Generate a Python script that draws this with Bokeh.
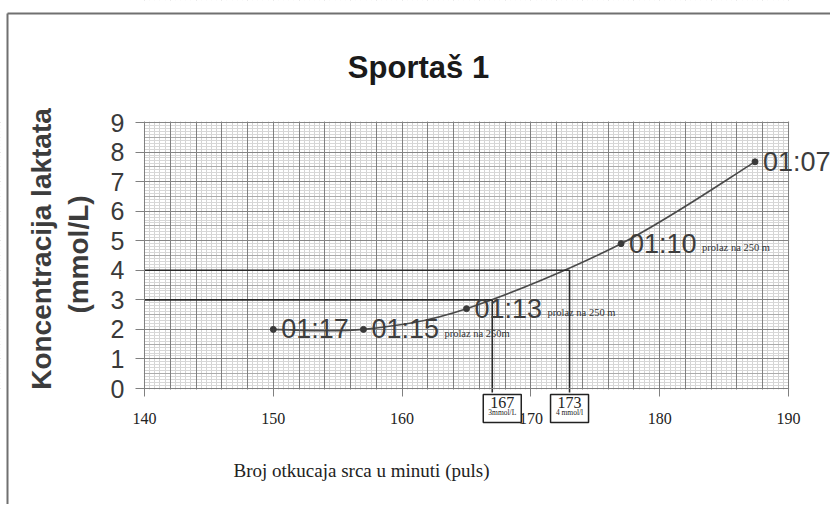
import numpy as np
from bokeh.plotting import figure
from bokeh.models import (ColumnDataSource, Grid, SingleIntervalTicker, Label,
                          LabelSet, FixedTicker, Range1d)
from bokeh.core.properties import value
from bokeh.embed import file_html
from bokeh.resources import INLINE

# ---------------- data ----------------
pulse = [150, 157, 165, 177, 187.4]
lactate = [2.0, 2.0, 2.7, 4.9, 7.67]
times = ["01:17", "01:15", "01:13", "01:10", "01:07"]
split_pulse = [157, 165, 177]
split_lactate = [2.0, 2.7, 4.9]
split_notes = ["prolaz na 250m", "prolaz na 250 m", "prolaz na 250 m"]
threshold_lactate = [3, 4]
threshold_pulse = [167, 173]
threshold_pulse_labels = ["167", "173"]
threshold_unit_labels = ["3mmol/L", "4 mmol/l"]
x_ticks = [140, 150, 160, 170, 180, 190]
y_ticks = [0, 1, 2, 3, 4, 5, 6, 7, 8, 9]
title_text = "Sportaš 1"
x_title = "Broj otkucaja srca u minuti (puls)"
y_title_lines = ["Koncentracija laktata", "(mmol/L)"]

X0, X1 = 140, 190
Y0, Y1 = 0, 9

# ---------------- geometry (page layout) ----------------
W, H = 830, 504
PXX = 12.88            # px per pulse unit
PXY = 266 / 9          # px per mmol/L
XS = X0 - 144 / PXX
XE = XS + W / PXX
YE = Y1 + 122 / PXY
YS = YE - H / PXY


def dx(px):
    return XS + px / PXX


def dy(py):
    return YE - py / PXY


p = figure(width=W, height=H, output_backend="svg", toolbar_location=None,
           x_range=Range1d(XS, XE), y_range=Range1d(YS, YE), min_border=0)
p.title.visible = False
p.background_fill_color = "white"
p.border_fill_color = "white"
p.outline_line_color = None
p.xgrid.visible = False
p.ygrid.visible = False

# graph-paper grid
grid_specs = [
    (0, 0.4, "#d4d4d4"),
    (1, 0.1, "#d7d7d7"),
    (1, 0.5, "#ababab"),
    (0, 2.0, "#808080"),
    (1, 1.0, "#858585"),
]
for dim, interval, color in grid_specs:
    g = Grid(dimension=dim, ticker=SingleIntervalTicker(interval=interval),
             grid_line_color=color, grid_line_width=1,
             bounds=(X0, X1) if dim == 0 else (Y0, Y1))
    p.add_layout(g)

# white paper around the grid
ex, ey = 0.6 / PXX, 0.9 / PXY
mx, my = 2.0, 2.0
p.quad(left=[XS - mx, X1 + ex, XS - mx, XS - mx],
       right=[X0 - ex, XE + mx, XE + mx, XE + mx],
       bottom=[YS - my, YS - my, Y1 + ey, YS - my],
       top=[YE + my, YE + my, YE + my, Y0 - ey],
       fill_color="white", line_color=None)

# axes at the grid edges
p.xaxis.fixed_location = Y0
p.yaxis.fixed_location = X0
p.xaxis.bounds = (X0, X1)
p.yaxis.bounds = (Y0, Y1)
p.xaxis.ticker = FixedTicker(ticks=x_ticks)
p.yaxis.ticker = FixedTicker(ticks=y_ticks)
for ax in (p.xaxis[0], p.yaxis[0]):
    ax.axis_line_color = "#808080"
    ax.major_tick_line_color = "#808080"
    ax.major_tick_in = 0
    ax.minor_tick_line_color = None
p.xaxis.major_tick_out = 8
p.yaxis.major_tick_out = 9
p.xaxis.major_label_text_font = "Liberation Serif"
p.xaxis.major_label_text_font_size = "16px"
p.xaxis.major_label_text_color = "#222222"
p.xaxis.major_label_standoff = 16
p.yaxis.major_label_text_font = "Liberation Sans"
p.yaxis.major_label_text_font_size = "25px"
p.yaxis.major_label_text_color = "#3a3a3a"
p.yaxis.major_label_standoff = 11

# page border (scanned sheet edge)
p.segment(x0=[dx(7), dx(7)], y0=[dy(13), dy(13)], x1=[XE + mx, dx(7)],
          y1=[dy(13), YS - my], line_color="#707070", line_width=2)

# smooth curve through points (Catmull-Rom as Bezier segments)
P = np.column_stack([pulse, lactate]).astype(float)
Pe = np.vstack([P[0], P, P[-1]])
segs = {k: [] for k in ["x0", "y0", "x1", "y1", "cx0", "cy0", "cx1", "cy1"]}
for i in range(len(P) - 1):
    p0, p1, p2, p3 = Pe[i], Pe[i + 1], Pe[i + 2], Pe[i + 3]
    c1 = p1 + (p2 - p0) / 6.0
    c2 = p2 - (p3 - p1) / 6.0
    segs["x0"].append(p1[0]); segs["y0"].append(p1[1])
    segs["x1"].append(p2[0]); segs["y1"].append(p2[1])
    segs["cx0"].append(c1[0]); segs["cy0"].append(c1[1])
    segs["cx1"].append(c2[0]); segs["cy1"].append(c2[1])
p.bezier(x0="x0", y0="y0", x1="x1", y1="y1", cx0="cx0", cy0="cy0",
         cx1="cx1", cy1="cy1", source=ColumnDataSource(segs),
         line_color="#4a4a4a", line_width=1.6)

# threshold lines
p.segment(x0=[X0] * len(threshold_pulse), y0=threshold_lactate,
          x1=threshold_pulse, y1=threshold_lactate,
          line_color="#2a2a2a", line_width=1.6)
p.segment(x0=threshold_pulse, y0=threshold_lactate,
          x1=threshold_pulse, y1=[dy(392)] * len(threshold_pulse),
          line_color="#2a2a2a", line_width=1.6)

# points
src = ColumnDataSource(dict(x=pulse, y=lactate, t=times))
p.scatter("x", "y", source=src, size=6, color="#3a3a3a")

p.add_layout(LabelSet(x="x", y="y", text="t", source=src, x_offset=8,
                      text_baseline="middle", text_align="left",
                      text_font=value("Liberation Sans"), text_font_size="27px",
                      text_color="#3d3d3d"))
src2 = ColumnDataSource(dict(x=split_pulse, y=split_lactate, t=split_notes))
p.add_layout(LabelSet(x="x", y="y", text="t", source=src2, x_offset=81,
                      y_offset=-4, text_baseline="middle", text_align="left",
                      text_font=value("Liberation Serif"), text_font_size="10.5px",
                      text_color="#333333"))

# threshold boxes below the axis
box_shift = [10, 0]
for xp, lab, unit, sh in zip(threshold_pulse, threshold_pulse_labels,
                             threshold_unit_labels, box_shift):
    p.add_layout(Label(x=xp, y=dy(394), x_offset=sh, text=lab, text_align="center",
                       text_baseline="top", text_font="Liberation Serif",
                       text_font_size="16px", text_color="#222222",
                       border_line_color="#222222", border_line_width=1.5,
                       background_fill_color="white",
                       padding=dict(left=7, right=7, top=2, bottom=15)))
    p.add_layout(Label(x=xp, y=dy(412), x_offset=sh, text=unit, text_align="center",
                       text_baseline="middle", text_font="Liberation Serif",
                       text_font_size="7.5px", text_color="#222222"))

# titles
p.add_layout(Label(x=dx(418), y=dy(67), text=title_text, text_align="center",
                   text_baseline="middle", text_font="Liberation Sans",
                   text_font_style="bold", text_font_size="31px",
                   text_color="#1a1a1a"))
p.add_layout(Label(x=dx(361), y=dy(470), text=x_title, text_align="center",
                   text_baseline="middle", text_font="Liberation Serif",
                   text_font_size="19px", text_color="#222222"))
for xpix, ypix, t in zip([40.5, 77.5], [248.5, 254], y_title_lines):
    p.add_layout(Label(x=dx(xpix), y=dy(ypix), text=t, angle=np.pi / 2,
                       text_align="center", text_baseline="middle",
                       text_font="Liberation Sans", text_font_style="bold",
                       text_font_size="28px", text_color="#3c3c3c"))

open("out.html", "w").write(file_html(p, INLINE))
